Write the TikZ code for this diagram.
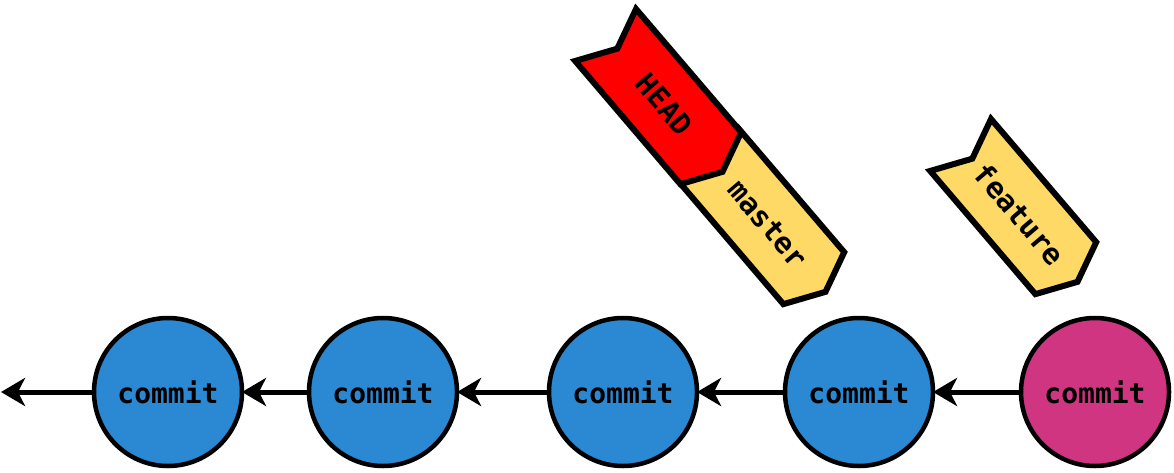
\documentclass[tikz,border=0pt]{standalone}
\usepackage{fontspec}
\setmonofont{DejaVu Sans Mono}
\usetikzlibrary{arrows.meta}
\definecolor{cblue}{HTML}{2A89D2}
\definecolor{cpink}{HTML}{D03582}
\definecolor{fyellow}{HTML}{FFD966}
\definecolor{fred}{HTML}{FF0000}
\tikzset{
 commitnode/.style={circle, draw=black, line width=4.5pt, minimum size=148pt, inner sep=0pt, outer sep=0pt, font=\ttfamily\bfseries\fontsize{28}{28}\selectfont},
 parentarrow/.style={line width=5pt, -{Stealth[length=24pt,width=28pt,inset=7pt]}},
 flagshape/.style={draw=black, line width=6pt, line join=miter},
 flagtext/.style={font=\ttfamily\bfseries\fontsize{29}{29}\selectfont, rotate=-49.5, inner sep=0pt},
}
\begin{document}
\begin{tikzpicture}[x=1pt,y=-1pt]
\useasboundingbox (0,0) rectangle (1174,472);
% commits
\node[commitnode, fill=cblue] (c1) at (168,392) {commit};
\node[commitnode, fill=cblue] (c2) at (383,392) {commit};
\node[commitnode, fill=cblue] (c3) at (623,392) {commit};
\node[commitnode, fill=cblue] (c4) at (859,392) {commit};
\node[commitnode, fill=cpink] (c5) at (1095,392) {commit};
\coordinate (root) at (1,392);
\draw[parentarrow] (c1.west) -- (root);
\draw[parentarrow] (c2.west) -- (c1.east);
\draw[parentarrow] (c3.west) -- (c2.east);
\draw[parentarrow] (c4.west) -- (c3.east);
\draw[parentarrow] (c5.west) -- (c4.east);
% master flag
\begin{scope}[shift={(739,129)}, rotate=-49.5]
\draw[flagshape, fill=fyellow] (0,0) -- (18,40) -- (0,80) -- (162,80) -- (180,40) -- (162,0) -- cycle;
\node[flagtext] (master) at (91,40) {master};
\end{scope}
% HEAD flag
\begin{scope}[shift={(636,9)}, rotate=-49.5]
\draw[flagshape, fill=fred] (0,0) -- (18,40) -- (0,80) -- (162,80) -- (180,40) -- (162,0) -- cycle;
\node[flagtext] (head) at (91,40) {HEAD};
\end{scope}
% feature flag
\begin{scope}[shift={(991,119)}, rotate=-49.5]
\draw[flagshape, fill=fyellow] (0,0) -- (18,40) -- (0,80) -- (162,80) -- (180,40) -- (162,0) -- cycle;
\node[flagtext] (feature) at (91,40) {feature};
\end{scope}
\end{tikzpicture}
\end{document}
